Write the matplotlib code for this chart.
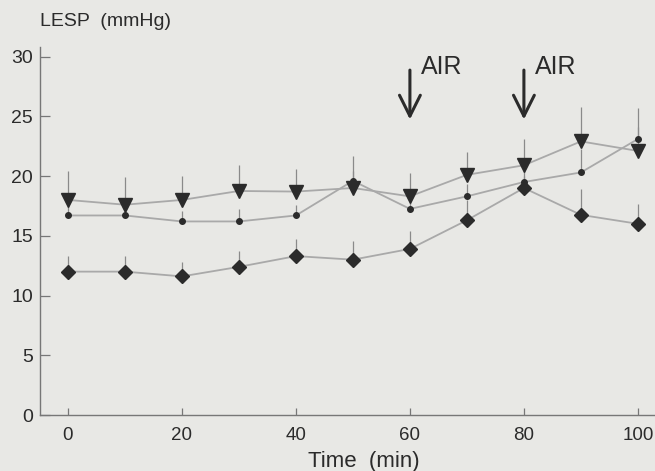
import matplotlib
matplotlib.use('Agg')
import matplotlib.pyplot as plt

plt.rcParams['font.family'] = ['Liberation Sans', 'DejaVu Sans']

# time points (min)
time = [0, 10, 20, 30, 40, 50, 60, 70, 80, 90, 100]

# LESP values (mmHg)
tri = [18.0, 17.6, 18.0, 18.75, 18.7, 19.0, 18.3, 20.1, 20.9, 22.9, 22.1]
tri_err = [2.4, 2.3, 2.0, 2.15, 1.9, 2.7, 1.95, 1.9, 2.2, 2.85, 3.6]

dot = [16.7, 16.7, 16.2, 16.2, 16.7, 19.6, 17.25, 18.3, 19.5, 20.3, 23.1]
dot_err = [0.9, 0.8, 0.9, 1.05, 0.9, 0.8, 1.0, 1.0, 1.2, 2.0, 1.0]

dia = [12.0, 12.0, 11.6, 12.4, 13.3, 13.0, 13.9, 16.3, 19.0, 16.75, 16.0]
dia_err = [1.3, 1.3, 1.2, 1.35, 1.45, 1.6, 1.5, 1.7, 1.0, 2.15, 1.7]

air_times = [60, 80]

bg = '#e8e8e5'
ink = '#2b2b2b'
line_c = '#a9a9a9'
err_c = '#8a8a8a'

fig = plt.figure(figsize=(6.55, 4.71), dpi=100, facecolor=bg)
ax = fig.add_axes([40 / 655, 56 / 471, 1 - 40 / 655, 368 / 471])
ax.set_facecolor(bg)

series = [(tri, tri_err, 'v', 10), (dot, dot_err, 'o', 4), (dia, dia_err, 'D', 7)]
for vals, errs, mk, ms in series:
    # only the upper half of the error bar is drawn
    ax.vlines(time, vals, [v + e for v, e in zip(vals, errs)], color=err_c, lw=0.9, zorder=1)
    ax.plot(time, vals, color=line_c, lw=1.3, zorder=2)
    ax.plot(time, vals, ls='none', marker=mk, ms=ms, color=ink, mec=ink, zorder=3)

for t in air_times:
    ax.annotate('', xy=(t, 24.5), xytext=(t, 29.1),
                arrowprops=dict(arrowstyle='->,head_length=1.5,head_width=0.75', color=ink, lw=2.2))
    ax.text(t + 1.9, 29.1, 'AIR', fontsize=18, color=ink, ha='left', va='center')

ax.set_xlim(-4.9, 103)
ax.set_ylim(0, 30.8)
ax.set_xticks([0, 20, 40, 60, 80, 100])
ax.set_yticks([0, 5, 10, 15, 20, 25, 30])
ax.tick_params(axis='y', direction='in', length=7, width=0.9, color='#777777',
               labelsize=14, labelcolor=ink, pad=5)
ax.tick_params(axis='x', direction='in', length=5, width=0.9, color='#777777',
               labelsize=13.5, labelcolor=ink, pad=9)
for side in ['top', 'right']:
    ax.spines[side].set_visible(False)
for side in ['left', 'bottom']:
    ax.spines[side].set_color('#777777')
    ax.spines[side].set_linewidth(1.0)

fig.text(40 / 655, 1 - 22 / 471, 'LESP  (mmHg)', fontsize=14, color=ink, ha='left', va='center')
fig.text(364 / 655, 1 - 462 / 471, 'Time  (min)', fontsize=16, color=ink, ha='center', va='center')

fig.savefig('out.png', dpi=100, facecolor=bg)
